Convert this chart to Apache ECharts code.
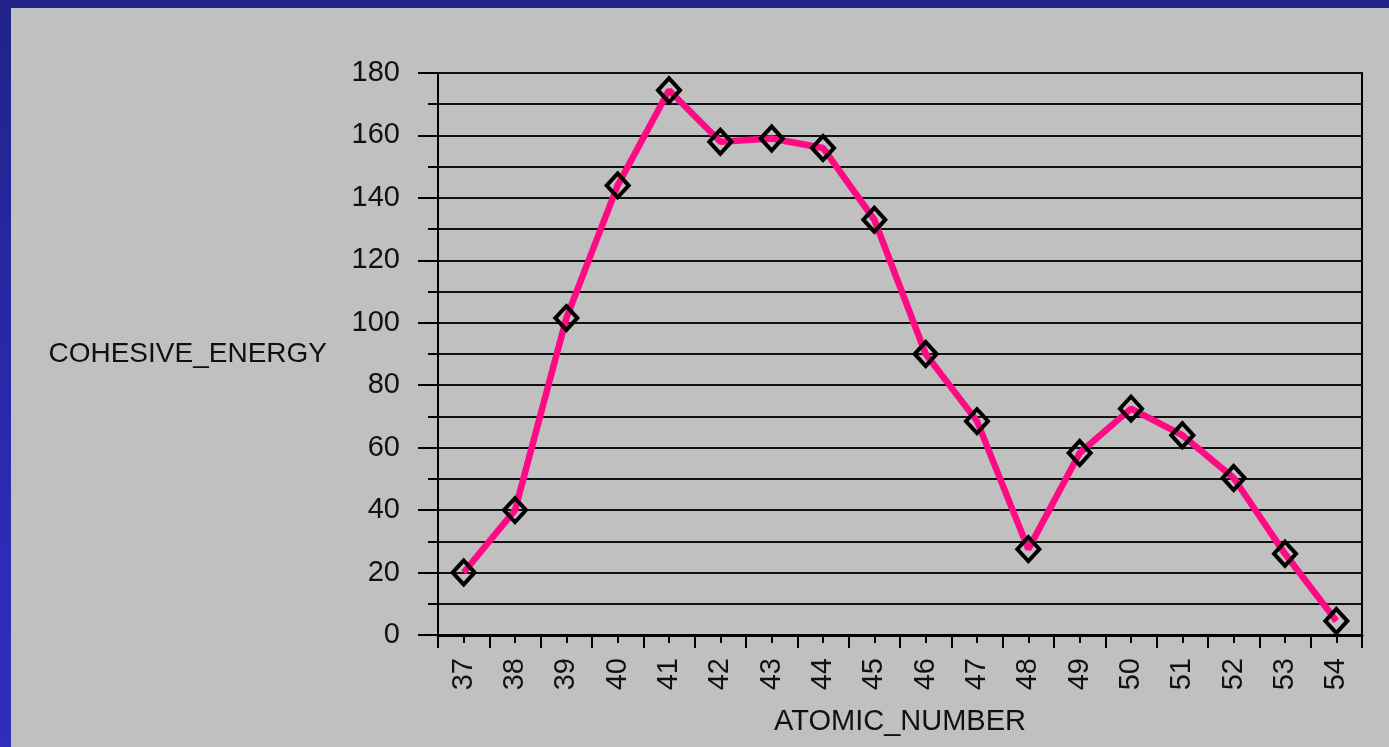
<!DOCTYPE html>
<html>
<head>
<meta charset="utf-8">
<title>Cohesive energy vs atomic number</title>
<script src="https://cdn.jsdelivr.net/npm/echarts@6/dist/echarts.min.js"></script>
<style>
  html, body { margin: 0; padding: 0; width: 1389px; height: 747px; overflow: hidden; }
  body { background: linear-gradient(to bottom, #22228a 0%, #2a2ab0 60%, #2e2ebe 100%); position: relative; }
  #chart { position: absolute; left: 11px; top: 8px; width: 1378px; height: 739px; background: #c0c0c0; }
</style>
</head>
<body>
<div id="chart"></div>
<script>
// Atomic numbers 37 (Rb) through 54 (Xe)
const atomicNumbers = ['37','38','39','40','41','42','43','44','45','46','47','48','49','50','51','52','53','54'];
// Cohesive energy values
const cohesiveEnergy = [20, 40, 101.5, 144, 174.5, 158, 159, 156, 133, 90, 68.5, 27.5, 58.3, 72.5, 64, 50.3, 26, 4.5];
// Value axis range and step
const yMin = 0, yMax = 180, yStep = 20;

const FONT = '"Liberation Sans", Arial, sans-serif';

const chart = echarts.init(document.getElementById('chart'), null, { renderer: 'canvas' });

chart.setOption({
  animation: false,
  backgroundColor: '#c0c0c0',
  grid: {
    left: 427, top: 65, right: 27, bottom: 112,
    show: true, borderColor: '#000', borderWidth: 2, backgroundColor: 'transparent'
  },
  xAxis: [
    {
      type: 'category',
      data: atomicNumbers,
      boundaryGap: true,
      name: 'ATOMIC_NUMBER',
      nameLocation: 'middle',
      nameGap: 72,
      nameTextStyle: { fontFamily: FONT, fontSize: 29, color: '#111' },
      axisLine: { show: true, lineStyle: { color: '#000', width: 3 } },
      axisTick: { show: true, interval: 0, alignWithLabel: false, length: 13, lineStyle: { color: '#000', width: 2 } },
      axisLabel: { interval: 0, rotate: 90, margin: 23, fontFamily: FONT, fontSize: 29, color: '#111' },
      splitLine: { show: false }
    },
    {
      // short ticks at category centres
      type: 'category',
      data: atomicNumbers,
      boundaryGap: true,
      position: 'bottom',
      axisLine: { show: false },
      axisTick: { show: true, interval: 0, alignWithLabel: true, length: 8, lineStyle: { color: '#000', width: 2 } },
      axisLabel: { show: false },
      splitLine: { show: false }
    }
  ],
  yAxis: {
    type: 'value',
    min: yMin, max: yMax, interval: yStep,
    name: 'COHESIVE_ENERGY',
    nameLocation: 'middle',
    nameRotate: 0,
    nameGap: 111,
    nameTextStyle: { fontFamily: FONT, fontSize: 28, color: '#111' },
    axisLine: { show: true, lineStyle: { color: '#000', width: 2 } },
    axisTick: { show: true, length: 20, lineStyle: { color: '#000', width: 2 } },
    minorTick: { show: true, splitNumber: 2, length: 10, lineStyle: { color: '#000', width: 2 } },
    axisLabel: { margin: 38, fontFamily: FONT, fontSize: 29, color: '#111' },
    splitLine: { show: true, lineStyle: { color: '#111', width: 2 } },
    minorSplitLine: { show: true, lineStyle: { color: '#111', width: 2 } }
  },
  series: [{
    type: 'line',
    data: cohesiveEnergy,
    xAxisIndex: 0,
    symbol: 'diamond',
    symbolSize: [22, 24],
    showAllSymbol: true,
    lineStyle: { color: '#ff0a84', width: 6.5 },
    itemStyle: { color: 'rgba(0,0,0,0)', borderColor: '#000', borderWidth: 4 },
    z: 5
  }]
});
</script>
</body>
</html>
